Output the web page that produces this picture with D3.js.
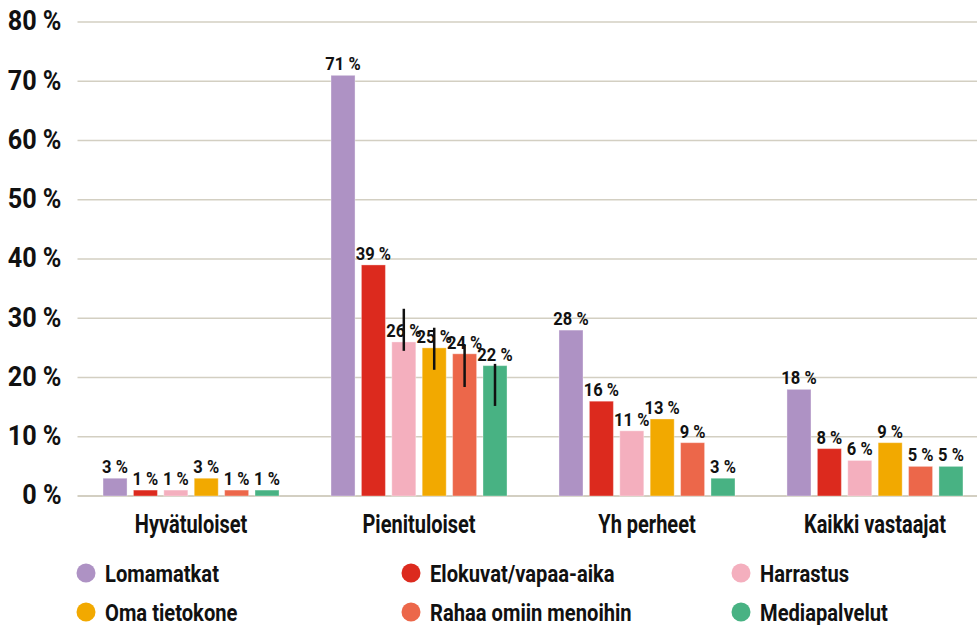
<!DOCTYPE html>
<html>
<head>
<meta charset="utf-8">
<script src="https://cdn.jsdelivr.net/npm/d3@7"></script>
<style>
  body { margin: 0; background: #fff; }
  svg text { font-family: Roboto, "Liberation Sans", sans-serif; font-weight: bold; fill: #111; }
</style>
</head>
<body>
<div id="chart"></div>
<script>
const categories = ["Hyvätuloiset", "Pienituloiset", "Yh perheet", "Kaikki vastaajat"];
const seriesNames = ["Lomamatkat", "Elokuvat/vapaa-aika", "Harrastus", "Oma tietokone", "Rahaa omiin menoihin", "Mediapalvelut"];
const seriesColors = ["#ae92c4", "#dc2a1e", "#f4afbe", "#f2a900", "#ec674a", "#48b283"];

// one array per series, values per category (%)
const lomamatkat = [3, 71, 28, 18];
const elokuvat = [1, 39, 16, 8];
const harrastus = [1, 26, 11, 6];
const tietokone = [3, 25, 13, 9];
const rahaa = [1, 24, 9, 5];
const media = [1, 22, 3, 5];

// error bars (Pienituloiset only)
const errCategory = "Pienituloiset";
const errSeries = ["Harrastus", "Oma tietokone", "Rahaa omiin menoihin", "Mediapalvelut"];
const errLow = [24.5, 21.3, 18.4, 15.2];
const errHigh = [31.6, 28.4, 25.5, 22.3];

const yTicks = [0, 10, 20, 30, 40, 50, 60, 70, 80];

const values = [lomamatkat, elokuvat, harrastus, tietokone, rahaa, media];
const data = categories.map((c, i) => ({
  category: c,
  items: seriesNames.map((s, j) => ({ series: s, value: values[j][i] }))
}));

const W = 977, H = 625;
const margin = { top: 22, right: 0, bottom: 129, left: 77.5 };
const width = W - margin.left - margin.right;
const height = H - margin.top - margin.bottom;

const svg = d3.select("#chart").append("svg")
  .attr("width", W)
  .attr("height", H);

const g = svg.append("g")
  .attr("transform", `translate(${margin.left},${margin.top})`);

const x0 = d3.scaleBand().domain(categories).range([0, 911])
  .paddingInner(0.228).paddingOuter(0.112);
const x1 = d3.scaleBand().domain(seriesNames).range([0, x0.bandwidth()])
  .paddingInner(0.21).paddingOuter(0);
const y = d3.scaleLinear().domain([0, 80]).range([height, 0]);
const color = d3.scaleOrdinal().domain(seriesNames).range(seriesColors);

// text helper: positioned group, horizontally squeezed text inside
function label(sel, xf, yf, size, squeeze, anchor, txt, dy) {
  const t = sel.append("g")
    .attr("transform", (d, i) => `translate(${xf(d, i)},${yf(d, i)}) scale(${squeeze},1)`)
    .append("text")
    .attr("text-anchor", anchor)
    .style("font-size", size + "px")
    .text(txt);
  if (dy) t.attr("dy", dy);
  return t;
}

// gridlines
g.append("g")
  .selectAll("line")
  .data(yTicks)
  .join("line")
  .attr("x1", 0)
  .attr("x2", width)
  .attr("y1", d => y(d))
  .attr("y2", d => y(d))
  .attr("stroke", "#d3cfc2")
  .attr("stroke-width", d => d === 0 ? 2 : 1.5);

// y tick labels
const yLab = g.append("g").selectAll("g").data(yTicks).join("g");
label(yLab, () => -16, d => y(d), 28, 0.9, "end", d => `${d} %`, "0.3em");

// bars
const groups = g.selectAll(".group")
  .data(data)
  .join("g")
  .attr("class", "group")
  .attr("transform", d => `translate(${x0(d.category)},0)`);

groups.selectAll("rect")
  .data(d => d.items)
  .join("rect")
  .attr("x", d => x1(d.series))
  .attr("y", d => y(d.value))
  .attr("width", x1.bandwidth())
  .attr("height", d => y(0) - y(d.value))
  .attr("fill", d => color(d.series))
  .attr("stroke", "#fff")
  .attr("stroke-opacity", 0.35)
  .attr("stroke-width", 1);

const vals = groups.selectAll(".val")
  .data(d => d.items)
  .join("g")
  .attr("class", "val");
label(vals, d => x1(d.series) + x1.bandwidth() / 2, d => y(d.value) - 5, 18, 0.92, "middle", d => `${d.value} %`);

// error bars
g.append("g")
  .selectAll("line")
  .data(errSeries.map((s, i) => ({ series: s, lo: errLow[i], hi: errHigh[i] })))
  .join("line")
  .attr("x1", d => x0(errCategory) + x1(d.series) + x1.bandwidth() / 2)
  .attr("x2", d => x0(errCategory) + x1(d.series) + x1.bandwidth() / 2)
  .attr("y1", d => y(d.hi))
  .attr("y2", d => y(d.lo))
  .attr("stroke", "#111")
  .attr("stroke-width", 2.5);

// category labels
const cats = g.append("g").selectAll("g").data(categories).join("g");
label(cats, d => x0(d) + x0.bandwidth() / 2, () => height + 37, 25, 0.8, "middle", d => d);

// legend
const legendX = [86, 411, 741];
const legendY = [573, 612];
const legend = svg.append("g")
  .selectAll("g")
  .data(seriesNames)
  .join("g")
  .attr("transform", (d, i) => `translate(${legendX[i % 3]},${legendY[Math.floor(i / 3)]})`);

legend.append("circle")
  .attr("r", 9.5)
  .attr("fill", d => color(d));

label(legend, () => 19, () => 0, 24, 0.84, "start", d => d, "0.36em");
</script>
</body>
</html>
